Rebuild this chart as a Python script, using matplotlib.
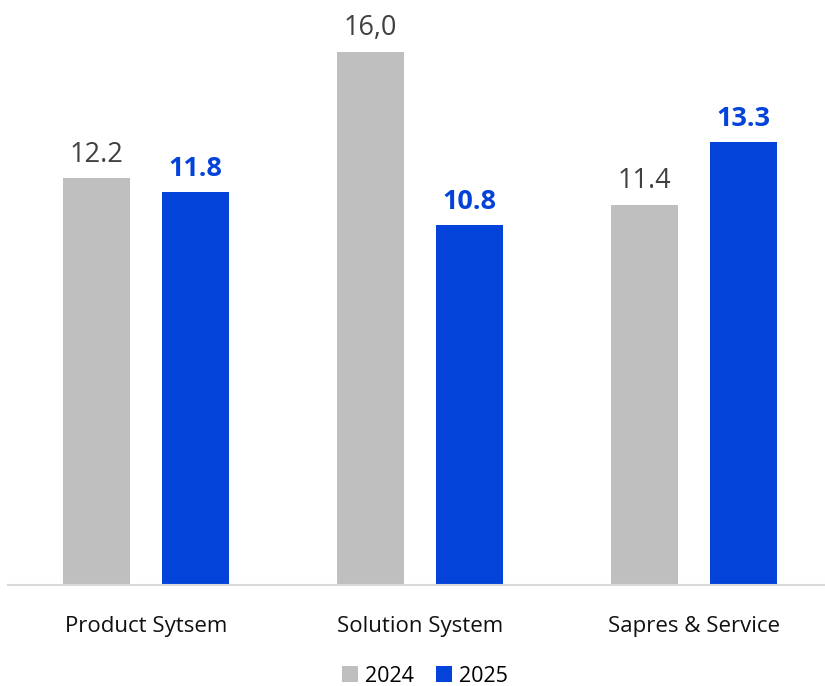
import matplotlib.pyplot as plt
import numpy as np

plt.rcParams['font.family'] = ['Open Sans', 'DejaVu Sans']

categories = ['Product Sytsem', 'Solution System', 'Sapres & Service']
values_2024 = [12.2, 16.0, 11.4]
values_2025 = [11.8, 10.8, 13.3]
labels_2024 = ['12.2', '16,0', '11.4']
labels_2025 = ['11.8', '10.8', '13.3']

gris = '#BFBFBF'
azul = '#0343D9'

fig = plt.figure(figsize=(8.25, 6.86), dpi=100)
ax = fig.add_axes([8 / 825, 101 / 686, 817 / 825, 585 / 686])

x = np.arange(len(categories))
ancho = 0.245
desp = 0.18

b1 = ax.bar(x - desp, values_2024, ancho, color=gris, label='2024')
b2 = ax.bar(x + desp, values_2025, ancho, color=azul, label='2025')

# etiquetas de datos
for rect, txt in zip(b1, labels_2024):
    ax.annotate(txt, (rect.get_x() + rect.get_width() / 2, rect.get_height()),
                xytext=(0, 7), textcoords='offset points', ha='center', va='bottom',
                fontsize=19.5, color='#404040')
for rect, txt in zip(b2, labels_2025):
    ax.annotate(txt, (rect.get_x() + rect.get_width() / 2, rect.get_height()),
                xytext=(0, 7), textcoords='offset points', ha='center', va='bottom',
                fontsize=19.5, color=azul, fontweight='bold')

ax.set_xlim(-0.504, 2.478)
ax.set_ylim(0, 17.55)
ax.set_xticks(x)
ax.set_xticklabels(categories, fontsize=16, color='#111111')
ax.tick_params(axis='x', length=0, pad=22)
ax.set_yticks([])
for s in ['top', 'right', 'left']:
    ax.spines[s].set_visible(False)
ax.spines['bottom'].set_color('#D9D9D9')
ax.spines['bottom'].set_linewidth(1.5)

fig.legend(loc='center', bbox_to_anchor=(0.515, 10 / 686), ncol=2,
           frameon=False, fontsize=15.5, handlelength=0.75, handleheight=0.75,
           handletextpad=0.35, columnspacing=1.0)

fig.savefig('out.png', dpi=100)
